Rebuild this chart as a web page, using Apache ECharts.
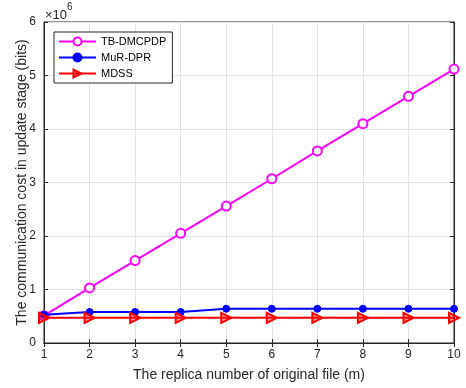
<!DOCTYPE html>
<html>
<head>
<meta charset="utf-8">
<script src="https://cdn.jsdelivr.net/npm/echarts@6/dist/echarts.min.js"></script>
<style>
  html, body { margin: 0; padding: 0; background: #fff; }
  #chart { width: 466px; height: 388px; }
</style>
</head>
<body>
<div id="chart"></div>
<script>
const replicas = [1, 2, 3, 4, 5, 6, 7, 8, 9, 10]
// values in units of 10^6 bits
const tbDmcpdp = [0.51, 1.03, 1.54, 2.05, 2.56, 3.07, 3.59, 4.10, 4.61, 5.12]
const murDpr = [0.53, 0.58, 0.58, 0.58, 0.64, 0.64, 0.64, 0.64, 0.64, 0.64]
const mdss = [0.47, 0.47, 0.47, 0.47, 0.47, 0.47, 0.47, 0.47, 0.47, 0.47]

const font = 'Liberation Sans, Arial, Helvetica, sans-serif'
const textColor = '#262626'

const toPairs = (arr) => arr.map((v, i) => [replicas[i], v])

const chart = echarts.init(document.getElementById('chart'))
chart.setOption({
  animation: false,
  grid: {
    left: 44,
    right: 12,
    top: 22,
    bottom: 45,
    outerBoundsMode: 'none',
    show: true,
    borderColor: '#262626',
    borderWidth: 1,
  },
  graphic: [
    {
      type: 'text',
      left: 45,
      top: 2,
      style: {
        text: '{a|×10}{b|6}',
        rich: {
          a: { fontSize: 13, fontFamily: font, fill: textColor, padding: [7, 0, 0, 0] },
          b: { fontSize: 10, fontFamily: font, fill: textColor, verticalAlign: 'top' },
        },
      },
    },
  ],
  legend: {
    left: 54,
    top: 32,
    orient: 'vertical',
    itemWidth: 37,
    itemHeight: 10,
    itemGap: 5,
    padding: [4, 6, 4, 4],
    borderColor: '#262626',
    borderWidth: 1,
    backgroundColor: '#fff',
    textStyle: { fontSize: 11, fontFamily: font, color: '#000' },
    data: ['TB-DMCPDP', 'MuR-DPR', 'MDSS'],
  },
  xAxis: [
    {
      type: 'value',
      min: 1,
      max: 10,
      interval: 1,
      name: 'The replica number of original file (m)',
      nameLocation: 'middle',
      nameGap: 25,
      nameMoveOverlap: false,
      nameTextStyle: { fontSize: 14, fontFamily: font, color: textColor },
      axisLine: { show: true, lineStyle: { color: '#262626' } },
      axisTick: { show: true, inside: true, length: 4, lineStyle: { color: '#262626' } },
      axisLabel: { fontSize: 12, fontFamily: font, color: textColor, margin: 6 },
      splitLine: { show: true, lineStyle: { color: '#e3e3e3' } },
    },
    {
      type: 'value',
      position: 'top',
      min: 1,
      max: 10,
      interval: 1,
      axisLine: { show: true, lineStyle: { color: '#262626' } },
      axisTick: { show: true, inside: true, length: 4, lineStyle: { color: '#262626' } },
      axisLabel: { show: false },
      splitLine: { show: false },
    },
  ],
  yAxis: [
    {
      type: 'value',
      min: 0,
      max: 6,
      interval: 1,
      name: 'The communication cost in update stage (bits)',
      nameLocation: 'middle',
      nameGap: 15,
      nameMoveOverlap: false,
      nameTextStyle: { fontSize: 14, fontFamily: font, color: textColor },
      axisLine: { show: true, lineStyle: { color: '#262626' } },
      axisTick: { show: true, inside: true, length: 4, lineStyle: { color: '#262626' } },
      axisLabel: { fontSize: 12, fontFamily: font, color: textColor, margin: 8 },
      splitLine: { show: true, lineStyle: { color: '#e3e3e3' } },
    },
    {
      type: 'value',
      position: 'right',
      min: 0,
      max: 6,
      interval: 1,
      axisLine: { show: true, lineStyle: { color: '#262626' } },
      axisTick: { show: true, inside: true, length: 4, lineStyle: { color: '#262626' } },
      axisLabel: { show: false },
      splitLine: { show: false },
    },
  ],
  series: [
    {
      name: 'TB-DMCPDP',
      type: 'line',
      data: toPairs(tbDmcpdp),
      symbol: 'circle',
      symbolSize: 9,
      showAllSymbol: true,
      lineStyle: { color: '#ff00ff', width: 2 },
      itemStyle: { color: '#fff', borderColor: '#ff00ff', borderWidth: 2 },
      z: 3,
    },
    {
      name: 'MuR-DPR',
      type: 'line',
      data: toPairs(murDpr),
      symbol: 'circle',
      symbolSize: 7,
      lineStyle: { color: '#0000ff', width: 2 },
      itemStyle: { color: '#0000ff', borderColor: '#0000ff', borderWidth: 1 },
      z: 4,
    },
    {
      name: 'MDSS',
      type: 'line',
      data: toPairs(mdss),
      symbol: 'triangle',
      symbolRotate: -90,
      symbolSize: 10,
      lineStyle: { color: '#ff0000', width: 2 },
      itemStyle: { color: 'rgba(255,0,0,0.4)', borderColor: '#ff0000', borderWidth: 2 },
      z: 5,
    },
  ],
})
</script>
</body>
</html>
